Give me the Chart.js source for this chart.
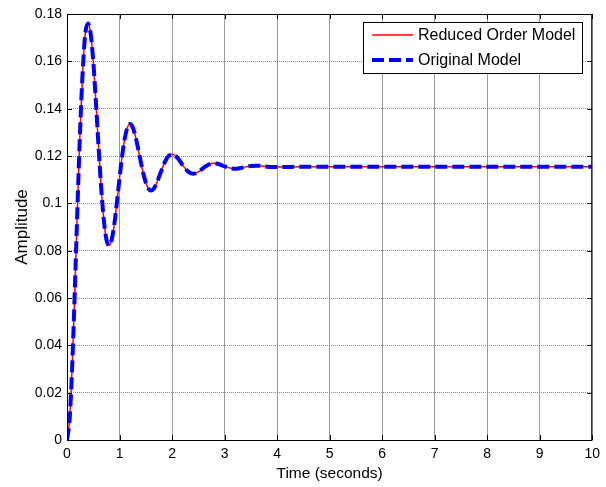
<!DOCTYPE html>
<html>
<head>
<meta charset="utf-8">
<script src="https://cdn.jsdelivr.net/npm/chart.js@4/dist/chart.umd.min.js"></script>
<style>
  html, body { margin: 0; padding: 0; background: #fff; }
  #wrap { width: 606px; height: 487px; position: relative; }
</style>
</head>
<body>
<div id="wrap"><canvas id="stepChart"></canvas></div>
<script>
// Step response samples (time in seconds)
const timeS = [
  0, 0.05, 0.1, 0.15, 0.2, 0.25, 0.3, 0.35, 0.4, 0.45, 0.5, 0.55, 0.6, 0.65, 0.7, 0.75,
  0.8, 0.85, 0.9, 0.95, 1.0, 1.05, 1.1, 1.15, 1.2, 1.25, 1.3, 1.35, 1.4, 1.45, 1.5, 1.55,
  1.6, 1.65, 1.7, 1.75, 1.8, 1.85, 1.9, 1.95, 2.0, 2.1, 2.2, 2.3, 2.4, 2.5, 2.6, 2.7,
  2.8, 2.9, 3.0, 3.1, 3.2, 3.3, 3.4, 3.5, 3.6, 3.7, 3.8, 3.9, 4.0, 4.5, 5, 5.5,
  6, 6.5, 7, 7.5, 8, 8.5, 9, 9.5, 10
];

// Original model amplitude
const originalModel = [
  0, 0.0087, 0.0318, 0.0640, 0.0990, 0.1310, 0.1562, 0.1720, 0.1760, 0.1718, 0.1600, 0.1430, 0.1242, 0.1068, 0.0932, 0.0848,
  0.0822, 0.0845, 0.0910, 0.1003, 0.1106, 0.1200, 0.1275, 0.1320, 0.1335, 0.1322, 0.1286, 0.1236, 0.1180, 0.1129, 0.1088, 0.1062,
  0.1054, 0.1062, 0.1082, 0.1110, 0.1140, 0.1168, 0.1190, 0.1203, 0.1207, 0.1193, 0.1162, 0.1135, 0.1125, 0.1133, 0.1150, 0.1164,
  0.1169, 0.1165, 0.1156, 0.1149, 0.1146, 0.1149, 0.1154, 0.1158, 0.1159, 0.1158, 0.1155, 0.1153, 0.1153, 0.1155, 0.1155, 0.1155,
  0.1155, 0.1155, 0.1155, 0.1155, 0.1155, 0.1155, 0.1155, 0.1155, 0.1155
];

// Reduced order model amplitude (overlays the original)
const reducedModel = [
  0, 0.0087, 0.0318, 0.0640, 0.0990, 0.1310, 0.1562, 0.1720, 0.1760, 0.1718, 0.1600, 0.1430, 0.1242, 0.1068, 0.0932, 0.0848,
  0.0822, 0.0845, 0.0910, 0.1003, 0.1106, 0.1200, 0.1275, 0.1320, 0.1335, 0.1322, 0.1286, 0.1236, 0.1180, 0.1129, 0.1088, 0.1062,
  0.1054, 0.1062, 0.1082, 0.1110, 0.1140, 0.1168, 0.1190, 0.1203, 0.1207, 0.1193, 0.1162, 0.1135, 0.1125, 0.1133, 0.1150, 0.1164,
  0.1169, 0.1165, 0.1156, 0.1149, 0.1146, 0.1149, 0.1154, 0.1158, 0.1159, 0.1158, 0.1155, 0.1153, 0.1153, 0.1155, 0.1155, 0.1155,
  0.1155, 0.1155, 0.1155, 0.1155, 0.1155, 0.1155, 0.1155, 0.1155, 0.1155
];

const xTicks = [0, 1, 2, 3, 4, 5, 6, 7, 8, 9, 10];
const yTicks = [0, 0.02, 0.04, 0.06, 0.08, 0.1, 0.12, 0.14, 0.16, 0.18];

const FONT = '"Liberation Sans", Arial, sans-serif';

function toPoints(ys) {
  return timeS.map((t, i) => ({ x: t, y: ys[i] }));
}

// Box around the axes, inward tick marks and the legend, matlab style
const framePlugin = {
  id: 'frame',
  afterDatasetsDraw(chart) {
    const { ctx, chartArea: a, scales } = chart;
    ctx.save();
    ctx.strokeStyle = '#000';
    ctx.lineWidth = 1;
    ctx.strokeRect(a.left + 0.5, a.top + 0.5, a.right - a.left - 1, a.bottom - a.top);
    ctx.beginPath();
    xTicks.forEach(v => {
      const x = Math.round(scales.x.getPixelForValue(v)) + 0.5;
      ctx.moveTo(x, a.bottom); ctx.lineTo(x, a.bottom - 5);
      ctx.moveTo(x, a.top); ctx.lineTo(x, a.top + 5);
    });
    yTicks.forEach(v => {
      const y = Math.round(scales.y.getPixelForValue(v)) + 0.5;
      ctx.moveTo(a.left, y); ctx.lineTo(a.left + 5, y);
      ctx.moveTo(a.right, y); ctx.lineTo(a.right - 5, y);
    });
    ctx.stroke();

    // legend
    const bx = 363, by = 22, bw = 219, bh = 51;
    ctx.fillStyle = '#fff';
    ctx.fillRect(bx, by, bw, bh);
    ctx.strokeRect(bx + 0.5, by + 0.5, bw, bh);
    ctx.font = '16px ' + FONT;
    ctx.textBaseline = 'middle';
    ctx.textAlign = 'left';
    chart.data.datasets.slice().reverse().forEach((ds, i) => {
      const y = by + 13 + i * 25;
      ctx.beginPath();
      ctx.strokeStyle = ds.borderColor;
      ctx.lineWidth = ds.borderWidth;
      ctx.setLineDash(ds.borderDash || []);
      ctx.moveTo(372, y); ctx.lineTo(413, y);
      ctx.stroke();
      ctx.setLineDash([]);
      ctx.fillStyle = '#000';
      ctx.fillText(ds.label, 418, y + 1);
    });
    ctx.restore();
  }
};

new Chart(document.getElementById('stepChart'), {
  type: 'line',
  data: {
    datasets: [
      {
        label: 'Original Model',
        data: toPoints(originalModel),
        borderColor: '#0000ff',
        borderWidth: 4,
        borderDash: [12, 5],
        pointRadius: 0,
        cubicInterpolationMode: 'monotone',
        order: 1
      },
      {
        label: 'Reduced Order Model',
        data: toPoints(reducedModel),
        borderColor: '#ff0000',
        borderWidth: 1.5,
        pointRadius: 0,
        cubicInterpolationMode: 'monotone',
        order: 2
      }
    ]
  },
  options: {
    responsive: true,
    maintainAspectRatio: false,
    animation: false,
    layout: { padding: { left: 0, top: 14, right: 12, bottom: 0 } },
    plugins: { legend: { display: false }, tooltip: { enabled: false } },
    scales: {
      x: {
        type: 'linear',
        min: 0,
        max: 10,
        afterBuildTicks: s => { s.ticks = xTicks.map(v => ({ value: v })); },
        afterFit: s => { s.height = 47; },
        grid: { color: '#9a9a9a', lineWidth: 1, drawTicks: false },
        border: { display: false },
        ticks: { color: '#000', font: { family: FONT, size: 14 }, padding: 6, maxRotation: 0 },
        title: { display: true, text: 'Time (seconds)', color: '#000', font: { family: FONT, size: 15.5 }, padding: { top: 0, bottom: 4 } }
      },
      y: {
        type: 'linear',
        min: 0,
        max: 0.18,
        afterBuildTicks: s => { s.ticks = yTicks.map(v => ({ value: v })); },
        afterFit: s => { s.width = 67; },
        grid: { color: '#8a8a8a', lineWidth: 1, drawTicks: false },
        border: { display: false, dash: [1, 1] },
        ticks: { color: '#000', font: { family: FONT, size: 14 }, padding: 5, callback: v => String(+v.toFixed(2)) },
        title: { display: true, text: 'Amplitude', color: '#000', font: { family: FONT, size: 17 }, padding: { top: 12, bottom: 0 } }
      }
    }
  },
  plugins: [framePlugin]
});
</script>
</body>
</html>
